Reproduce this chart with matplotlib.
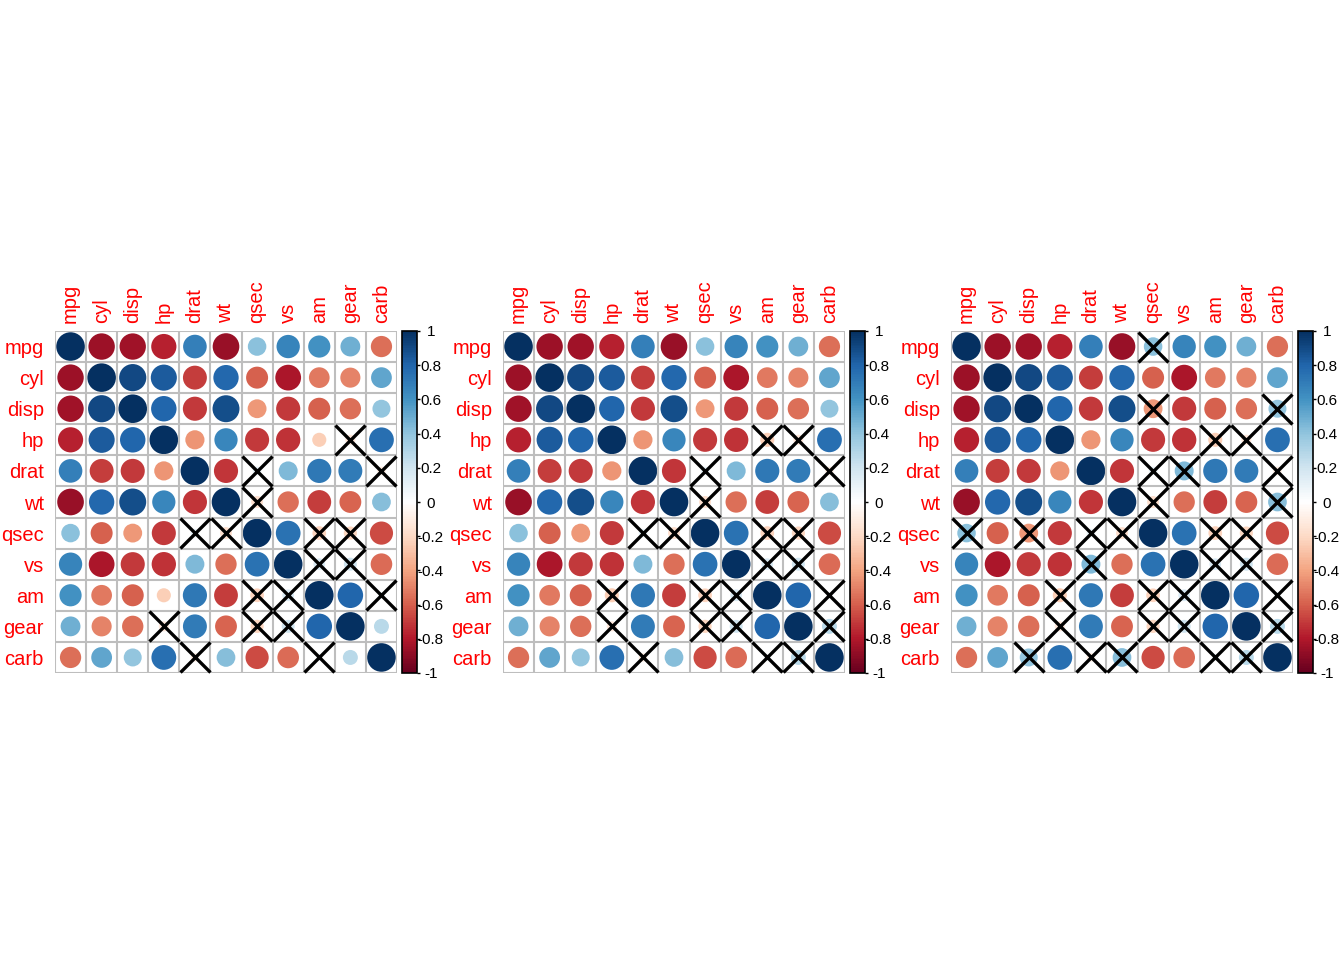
import numpy as np
import matplotlib
matplotlib.use("Agg")
import matplotlib.pyplot as plt
from matplotlib.patches import Circle
from matplotlib.colors import LinearSegmentedColormap, Normalize
from matplotlib.cm import ScalarMappable

plt.rcParams["font.family"] = ["Liberation Sans", "DejaVu Sans"]

# mtcars variables
variables = ["mpg", "cyl", "disp", "hp", "drat", "wt", "qsec", "vs", "am", "gear", "carb"]

# correlation matrix (upper triangle rows, read as full matrix)
corr = np.array([
    [1.000, -0.852, -0.848, -0.776, 0.681, -0.868, 0.419, 0.664, 0.600, 0.480, -0.551],
    [-0.852, 1.000, 0.902, 0.832, -0.700, 0.782, -0.591, -0.811, -0.523, -0.493, 0.527],
    [-0.848, 0.902, 1.000, 0.791, -0.710, 0.888, -0.434, -0.710, -0.591, -0.556, 0.395],
    [-0.776, 0.832, 0.791, 1.000, -0.449, 0.659, -0.708, -0.723, -0.243, -0.126, 0.750],
    [0.681, -0.700, -0.710, -0.449, 1.000, -0.712, 0.091, 0.440, 0.713, 0.700, -0.091],
    [-0.868, 0.782, 0.888, 0.659, -0.712, 1.000, -0.175, -0.555, -0.692, -0.583, 0.428],
    [0.419, -0.591, -0.434, -0.708, 0.091, -0.175, 1.000, 0.745, -0.230, -0.213, -0.656],
    [0.664, -0.811, -0.710, -0.723, 0.440, -0.555, 0.745, 1.000, 0.168, 0.206, -0.570],
    [0.600, -0.523, -0.591, -0.243, 0.713, -0.692, -0.230, 0.168, 1.000, 0.794, 0.058],
    [0.480, -0.493, -0.556, -0.126, 0.700, -0.583, -0.213, 0.206, 0.794, 1.000, 0.274],
    [-0.551, 0.527, 0.395, 0.750, -0.091, 0.428, -0.656, -0.570, 0.058, 0.274, 1.000],
])

# p-values of the correlation tests
pvals = np.array([
    [0.0, 6e-10, 9e-10, 2e-07, 2e-05, 1e-10, 0.0171, 3e-05, 3e-04, 0.0054, 0.0011],
    [6e-10, 0.0, 2e-12, 3e-09, 8e-06, 1e-07, 4e-04, 2e-08, 0.0022, 0.0042, 0.0019],
    [9e-10, 2e-12, 0.0, 7e-08, 5e-06, 1e-11, 0.0131, 5e-06, 4e-04, 0.0009, 0.0253],
    [2e-07, 3e-09, 7e-08, 0.0, 0.0100, 4e-05, 6e-06, 3e-06, 0.1798, 0.4930, 8e-07],
    [2e-05, 8e-06, 5e-06, 0.0100, 0.0, 5e-06, 0.6196, 0.0117, 5e-06, 8e-06, 0.6212],
    [1e-10, 1e-07, 1e-11, 4e-05, 5e-06, 0.0, 0.3389, 0.0010, 1e-05, 0.0005, 0.0146],
    [0.0171, 4e-04, 0.0131, 6e-06, 0.6196, 0.3389, 0.0, 1e-06, 0.2057, 0.2425, 4e-05],
    [3e-05, 2e-08, 5e-06, 3e-06, 0.0117, 0.0010, 1e-06, 0.0, 0.3570, 0.2579, 0.0007],
    [3e-04, 0.0022, 4e-04, 0.1798, 5e-06, 1e-05, 0.2057, 0.3570, 0.0, 6e-08, 0.7545],
    [0.0054, 0.0042, 0.0009, 0.4930, 8e-06, 0.0005, 0.2425, 0.2579, 6e-08, 0.0, 0.1290],
    [0.0011, 0.0019, 0.0253, 8e-07, 0.6212, 0.0146, 4e-05, 0.0007, 0.7545, 0.1290, 0.0],
])

sig_levels = [0.2, 0.05, 0.01]

bar_ticks = [1, 0.8, 0.6, 0.4, 0.2, 0, -0.2, -0.4, -0.6, -0.8, -1]
bar_labels = ["1", "0.8", "0.6", "0.4", "0.2", "0", "-0.2", "-0.4", "-0.6", "-0.8", "-1"]

# corrplot COL2("RdBu")
rdbu = ["#67001F", "#B2182B", "#D6604D", "#F4A582", "#FDDBC7", "#FFFFFF",
        "#D1E5F0", "#92C5DE", "#4393C3", "#2166AC", "#053061"]
cmap = LinearSegmentedColormap.from_list("corr", rdbu, N=200)
norm = Normalize(-1, 1)

W, H = 1344, 960
fig = plt.figure(figsize=(W / 100, H / 100), dpi=100)

n = len(variables)
grid_col = "#BEBEBE"

for k, sig in enumerate(sig_levels):
    off = k * 448
    ax = fig.add_axes([(55 + off) / W, (H - 673) / H, 342 / W, 342 / H])
    ax.set_xlim(0.5, n + 0.5)
    ax.set_ylim(n + 0.5, 0.5)

    # cells
    for i in range(n):
        for j in range(n):
            r = corr[i, j]
            ax.add_patch(Circle((j + 1, i + 1), 0.46 * np.sqrt(abs(r)),
                                facecolor=cmap(norm(r)), edgecolor="none", zorder=2))
    edges = np.arange(0.5, n + 1, 1)
    ax.vlines(edges, 0.5, n + 0.5, color=grid_col, lw=1.5, zorder=3)
    ax.hlines(edges, 0.5, n + 0.5, color=grid_col, lw=1.5, zorder=3)

    # insignificant cells
    rows, cols = np.where(pvals > sig)
    ax.plot(cols + 1, rows + 1, linestyle="none", marker="x", ms=21, mew=2.4,
            color="black", zorder=4, clip_on=False)

    for s in ax.spines.values():
        s.set_visible(False)
    ax.xaxis.tick_top()
    ax.set_xticks(range(1, n + 1))
    ax.set_xticklabels(variables, rotation=90, color="red", fontsize=14.5)
    ax.set_yticks(range(1, n + 1))
    ax.set_yticklabels(variables, color="red", fontsize=14.5)
    ax.tick_params(axis="x", length=0, pad=5.5)
    ax.tick_params(axis="y", length=0, pad=8)

    # color legend
    cax = fig.add_axes([(402 + off) / W, (H - 673) / H, 15 / W, 342 / H])
    cb = fig.colorbar(ScalarMappable(norm=norm, cmap=cmap), cax=cax, ticks=bar_ticks)
    cb.outline.set_linewidth(1.2)
    cb.outline.set_edgecolor("black")
    cax.set_yticklabels(bar_labels)
    cax.tick_params(axis="y", length=2.5, width=1, pad=7.5, labelsize=11)
    for lbl in cax.get_yticklabels():
        lbl.set_ha("center")

fig.savefig("out.png", dpi=100)
